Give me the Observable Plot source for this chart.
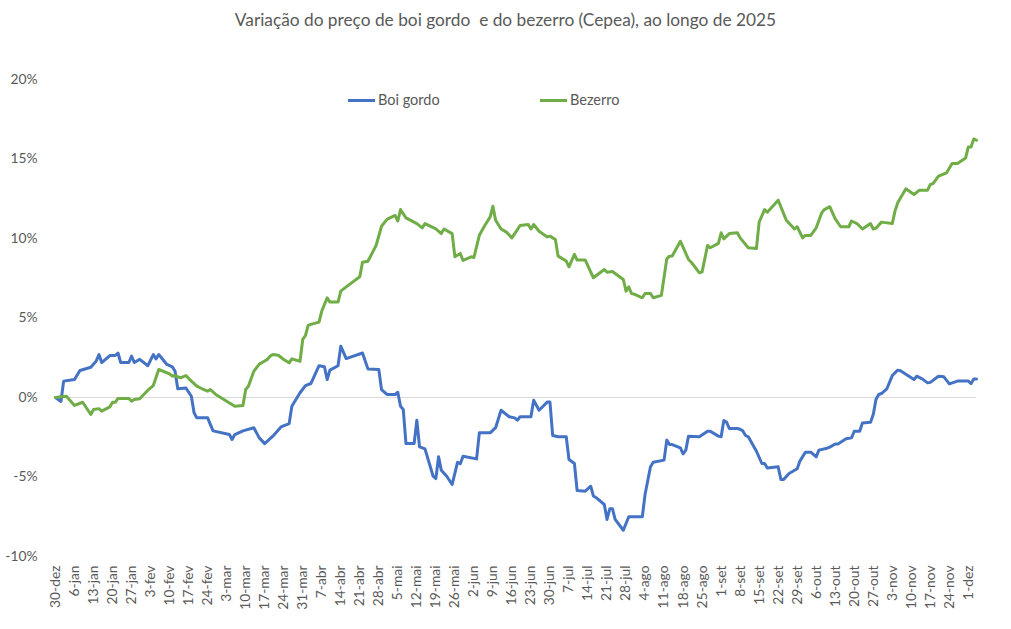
<!DOCTYPE html>
<html><head><meta charset="utf-8">
<script src="https://cdn.jsdelivr.net/npm/d3@7"></script>
<script src="https://cdn.jsdelivr.net/npm/@observablehq/plot@0.6"></script>
<style>
body{margin:0;background:#fff;font-family:Lato,"Open Sans",sans-serif;}
#wrap{position:relative;width:1011px;height:629px;}
#title{height:40px;line-height:40px;text-align:center;font-size:17.3px;color:#595959;white-space:pre;}
#legend{position:absolute;top:91px;left:0;width:1011px;height:18px;font-size:14.5px;color:#595959;}
.item{position:absolute;top:0;height:18px;line-height:18px;}
.sw{position:absolute;top:8px;width:27px;height:3px;}
</style></head>
<body><div id="wrap"><div id="title"></div><div id="chart"></div><div id="legend"></div></div>
<script>
const title = "Variação do preço de boi gordo  e do bezerro (Cepea), ao longo de 2025";
const seriesNames = ["Boi gordo", "Bezerro"];
const seriesColors = ["#4472C4", "#70AD47"];
const monthNames = ["jan","fev","mar","abr","mai","jun","jul","ago","set","out","nov","dez"];
const yTicks = [-10, -5, 0, 5, 10, 15, 20];
const xStart = "2024-12-30", xEnd = "2025-12-04";

const boiDates = ["2024-12-30","2025-01-01","2025-01-02","2025-01-06","2025-01-08","2025-01-12","2025-01-14","2025-01-15","2025-01-16","2025-01-19","2025-01-21","2025-01-22","2025-01-23","2025-01-26","2025-01-27","2025-01-28","2025-01-30","2025-02-02","2025-02-04","2025-02-05","2025-02-06","2025-02-09","2025-02-11","2025-02-12","2025-02-13","2025-02-16","2025-02-18","2025-02-19","2025-02-20","2025-02-24","2025-02-26","2025-03-04","2025-03-05","2025-03-06","2025-03-09","2025-03-13","2025-03-15","2025-03-17","2025-03-20","2025-03-23","2025-03-26","2025-03-27","2025-03-30","2025-04-01","2025-04-03","2025-04-06","2025-04-08","2025-04-09","2025-04-10","2025-04-13","2025-04-14","2025-04-16","2025-04-22","2025-04-24","2025-04-28","2025-04-29","2025-05-01","2025-05-04","2025-05-05","2025-05-06","2025-05-07","2025-05-08","2025-05-11","2025-05-12","2025-05-13","2025-05-15","2025-05-18","2025-05-19","2025-05-20","2025-05-21","2025-05-23","2025-05-25","2025-05-27","2025-05-28","2025-05-29","2025-06-03","2025-06-04","2025-06-08","2025-06-10","2025-06-12","2025-06-15","2025-06-17","2025-06-18","2025-06-19","2025-06-23","2025-06-24","2025-06-26","2025-06-29","2025-06-30","2025-07-01","2025-07-03","2025-07-06","2025-07-07","2025-07-09","2025-07-10","2025-07-13","2025-07-15","2025-07-16","2025-07-17","2025-07-20","2025-07-21","2025-07-22","2025-07-23","2025-07-24","2025-07-27","2025-07-29","2025-08-03","2025-08-04","2025-08-06","2025-08-07","2025-08-11","2025-08-12","2025-08-13","2025-08-14","2025-08-17","2025-08-18","2025-08-19","2025-08-20","2025-08-24","2025-08-27","2025-08-28","2025-08-31","2025-09-01","2025-09-02","2025-09-03","2025-09-04","2025-09-07","2025-09-08","2025-09-09","2025-09-10","2025-09-11","2025-09-14","2025-09-16","2025-09-17","2025-09-18","2025-09-22","2025-09-23","2025-09-24","2025-09-26","2025-09-29","2025-09-30","2025-10-02","2025-10-04","2025-10-06","2025-10-07","2025-10-10","2025-10-11","2025-10-13","2025-10-14","2025-10-17","2025-10-19","2025-10-20","2025-10-22","2025-10-23","2025-10-26","2025-10-27","2025-10-28","2025-10-29","2025-10-30","2025-11-01","2025-11-03","2025-11-05","2025-11-06","2025-11-11","2025-11-12","2025-11-14","2025-11-16","2025-11-17","2025-11-20","2025-11-22","2025-11-24","2025-11-27","2025-12-01","2025-12-02","2025-12-03","2025-12-04"];
const boiValues = [0,-0.25,1.03,1.13,1.7,1.9,2.3,2.7,2.2,2.64,2.64,2.8,2.2,2.2,2.6,2.2,2.4,2.0,2.7,2.43,2.7,2.08,1.93,1.65,0.55,0.6,0.08,-0.96,-1.28,-1.28,-2.1,-2.33,-2.64,-2.33,-2.1,-1.9,-2.54,-2.9,-2.43,-1.85,-1.64,-0.55,0.3,0.75,0.88,2.0,1.93,1.13,1.72,2.0,3.23,2.45,2.8,1.8,1.76,0.5,0.19,0.19,0.33,-0.55,-0.75,-2.9,-2.9,-1.43,-3.1,-3.23,-4.95,-5.1,-3.73,-4.57,-4.95,-5.47,-4.07,-4.17,-3.69,-3.86,-2.22,-2.22,-1.9,-0.8,-1.21,-1.28,-1.43,-1.21,-1.21,-0.17,-0.8,-0.29,-0.29,-2.39,-2.47,-2.47,-3.9,-4.15,-5.85,-5.89,-5.58,-6.2,-6.3,-6.73,-7.67,-7.0,-7.0,-7.67,-8.35,-7.5,-7.5,-6.1,-4.36,-4.07,-3.94,-2.68,-2.96,-2.96,-3.17,-3.54,-3.31,-2.43,-2.47,-2.12,-2.12,-2.43,-2.47,-1.45,-1.55,-1.95,-1.95,-2.0,-2.1,-2.39,-2.47,-3.38,-4.15,-4.15,-4.43,-4.36,-5.16,-5.16,-4.78,-4.48,-4.0,-3.44,-3.44,-3.73,-3.31,-3.19,-3.12,-2.92,-2.92,-2.6,-2.54,-2.12,-2.12,-1.6,-1.55,-1.07,-0.13,0.19,0.25,0.55,1.38,1.72,1.68,1.13,1.34,1.17,0.92,0.95,1.34,1.3,0.86,1.03,1.03,0.88,1.17,1.17];

const bezDates = ["2024-12-30","2025-01-01","2025-01-03","2025-01-06","2025-01-09","2025-01-12","2025-01-13","2025-01-15","2025-01-16","2025-01-19","2025-01-20","2025-01-21","2025-01-22","2025-01-26","2025-01-27","2025-01-28","2025-01-30","2025-02-02","2025-02-04","2025-02-06","2025-02-10","2025-02-11","2025-02-12","2025-02-14","2025-02-16","2025-02-18","2025-02-20","2025-02-22","2025-02-24","2025-02-25","2025-02-27","2025-03-03","2025-03-06","2025-03-09","2025-03-10","2025-03-11","2025-03-13","2025-03-15","2025-03-17","2025-03-18","2025-03-19","2025-03-20","2025-03-22","2025-03-24","2025-03-26","2025-03-27","2025-03-30","2025-03-31","2025-04-01","2025-04-02","2025-04-03","2025-04-06","2025-04-07","2025-04-09","2025-04-10","2025-04-13","2025-04-14","2025-04-16","2025-04-21","2025-04-22","2025-04-24","2025-04-27","2025-04-29","2025-05-01","2025-05-04","2025-05-05","2025-05-06","2025-05-08","2025-05-12","2025-05-14","2025-05-15","2025-05-19","2025-05-21","2025-05-22","2025-05-25","2025-05-26","2025-05-28","2025-05-29","2025-06-01","2025-06-02","2025-06-04","2025-06-06","2025-06-08","2025-06-09","2025-06-10","2025-06-12","2025-06-14","2025-06-16","2025-06-19","2025-06-22","2025-06-23","2025-06-24","2025-06-26","2025-06-29","2025-06-30","2025-07-02","2025-07-03","2025-07-06","2025-07-07","2025-07-09","2025-07-10","2025-07-13","2025-07-16","2025-07-20","2025-07-21","2025-07-23","2025-07-25","2025-07-27","2025-07-28","2025-07-29","2025-07-30","2025-07-31","2025-08-03","2025-08-04","2025-08-06","2025-08-07","2025-08-10","2025-08-12","2025-08-13","2025-08-14","2025-08-17","2025-08-20","2025-08-21","2025-08-24","2025-08-25","2025-08-27","2025-08-28","2025-08-31","2025-09-01","2025-09-02","2025-09-04","2025-09-07","2025-09-08","2025-09-11","2025-09-14","2025-09-15","2025-09-17","2025-09-18","2025-09-22","2025-09-25","2025-09-28","2025-09-29","2025-10-01","2025-10-02","2025-10-04","2025-10-06","2025-10-08","2025-10-09","2025-10-11","2025-10-13","2025-10-15","2025-10-18","2025-10-19","2025-10-21","2025-10-23","2025-10-26","2025-10-27","2025-10-28","2025-10-30","2025-11-03","2025-11-04","2025-11-05","2025-11-08","2025-11-11","2025-11-13","2025-11-16","2025-11-17","2025-11-18","2025-11-20","2025-11-23","2025-11-25","2025-11-27","2025-11-30","2025-12-01","2025-12-02","2025-12-03","2025-12-04"];
const bezValues = [0,0.04,0.08,-0.5,-0.3,-1.07,-0.75,-0.7,-0.86,-0.59,-0.3,-0.3,-0.06,-0.06,-0.23,-0.13,-0.08,0.46,0.75,1.76,1.49,1.34,1.38,1.24,1.38,1.03,0.71,0.55,0.4,0.5,0.19,-0.23,-0.55,-0.5,0.5,0.71,1.65,2.1,2.3,2.4,2.6,2.7,2.66,2.39,2.18,2.43,2.28,3.65,3.9,4.53,4.6,4.74,5.43,6.27,6.0,6.0,6.69,6.96,7.59,8.51,8.57,9.56,10.77,11.2,11.45,11.1,11.82,11.3,10.94,10.67,10.94,10.6,10.31,10.6,10.31,8.85,9.06,8.62,8.85,8.8,10.2,10.82,11.36,12.03,11.15,10.6,10.4,10.04,10.82,10.88,10.6,10.88,10.46,10.1,10.15,9.94,8.89,8.58,8.22,9.0,8.64,8.64,7.53,8.05,7.88,7.92,7.67,7.42,6.69,6.96,6.54,6.5,6.27,6.54,6.54,6.27,6.42,8.72,8.89,8.9,9.83,8.68,8.51,7.84,7.9,9.56,9.42,9.69,10.36,9.98,10.31,10.36,10.04,9.42,9.37,11.03,11.82,11.65,12.41,11.15,10.6,10.74,10.04,10.19,10.19,10.67,11.61,11.82,12.0,11.23,10.74,10.74,11.1,10.94,10.6,10.94,10.6,10.65,11.03,10.94,11.72,12.25,13.13,12.77,13.04,13.04,13.4,13.45,13.92,14.13,14.72,14.72,15.07,15.76,15.76,16.26,16.18];

document.getElementById("title").textContent = title;

const boi = boiDates.map((d, i) => ({date: new Date(d), v: boiValues[i]}));
const bez = bezDates.map((d, i) => ({date: new Date(d), v: bezValues[i]}));
const x0 = new Date(xStart), x1 = new Date(xEnd);
const xTicks = d3.utcMonday.range(x0, x1);
const fmt = d => `${d.getUTCDate()}-${monthNames[d.getUTCMonth()]}`;

const chart = Plot.plot({
  width: 1011, height: 589,
  marginTop: 39, marginBottom: 73, marginLeft: 55, marginRight: 35,
  style: {fontFamily: "Lato, 'Open Sans', sans-serif", fontSize: "13.8px", color: "#595959", background: "white"},
  x: {type: "utc", domain: [x0, x1], ticks: xTicks, tickFormat: fmt, tickRotate: -90, tickSize: 0, tickPadding: 9, label: null},
  y: {domain: [-10, 20], ticks: yTicks, tickFormat: d => d + "%", tickSize: 0, tickPadding: 18, label: null},
  marks: [
    Plot.ruleY([0], {stroke: "#d9d9d9", strokeWidth: 1.2}),
    Plot.line(boi, {x: "date", y: "v", stroke: seriesColors[0], strokeWidth: 3, strokeLinejoin: "round"}),
    Plot.line(bez, {x: "date", y: "v", stroke: seriesColors[1], strokeWidth: 3, strokeLinejoin: "round"})
  ]
});
document.getElementById("chart").appendChild(chart);

const legend = document.getElementById("legend");
const legendLeft = [348, 540];
seriesNames.forEach((name, i) => {
  const sw = document.createElement("div");
  sw.className = "sw"; sw.style.left = legendLeft[i] + "px"; sw.style.background = seriesColors[i];
  const t = document.createElement("div");
  t.className = "item"; t.style.left = (legendLeft[i] + 30) + "px"; t.textContent = name;
  legend.appendChild(sw); legend.appendChild(t);
});
</script></body></html>
